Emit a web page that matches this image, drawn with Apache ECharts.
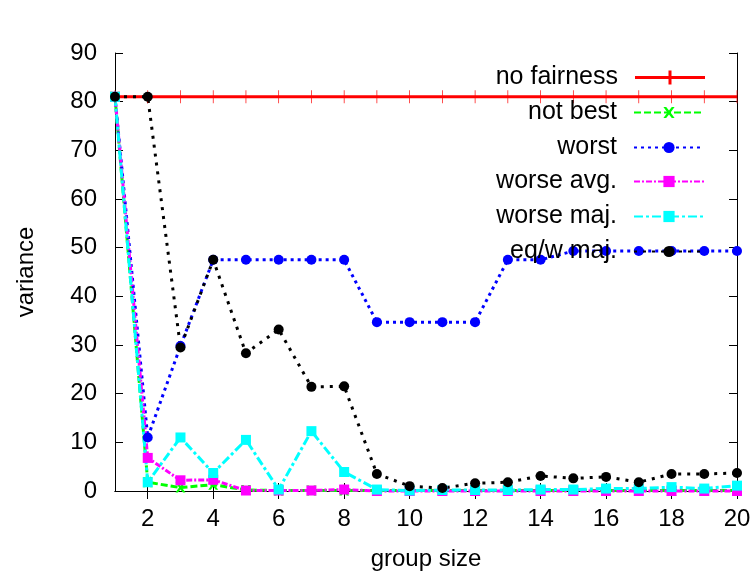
<!DOCTYPE html>
<html><head><meta charset="utf-8">
<script src="https://cdn.jsdelivr.net/npm/echarts@6/dist/echarts.min.js"></script>
<style>html,body{margin:0;padding:0;background:#fff}#c{width:756px;height:573px}</style>
</head><body><div id="c"></div>
<script>
const groupSize = [1,2,3,4,5,6,7,8,9,10,11,12,13,14,15,16,17,18,19,20];
const noFairness = [81,81,81,81,81,81,81,81,81,81,81,81,81,81,81,81,81,81,81,81];
const notBest = [81,1.8,0.7,1.3,0.2,0.1,0.1,0.1,0.1,0.1,0.1,0.1,0.1,0.1,0.1,0.1,0.1,0.1,0.1,0.1];
const worst = [81,11,29.8,47.5,47.5,47.5,47.5,47.5,34.7,34.7,34.7,34.7,47.5,47.5,49.3,49.3,49.3,49.3,49.3,49.3];
const worseAvg = [81,6.8,2.2,2.3,0.1,0.1,0.1,0.3,0,0,0,0,0,0,0,0,0,0,0,0];
const worseMaj = [81,1.8,11,3.7,10.5,0.3,12.3,3.9,0.3,0.1,0.2,0.2,0.2,0.3,0.3,0.5,0.5,0.8,0.5,1.1];
const eqwMaj = [81,81,29.5,47.5,28.3,33.2,21.4,21.5,3.5,1.0,0.6,1.6,1.8,3.1,2.6,2.9,1.8,3.5,3.5,3.7];
const xTicks = [2,4,6,8,10,12,14,16,18,20];
const yTicks = [0,10,20,30,40,50,60,70,80,90];
const names = ['no fairness','not best','worst','worse avg.','worse maj.','eq/w maj.'];

const FONT = '"Liberation Sans", Arial, sans-serif';
const pair = a => groupSize.map((x,i)=>[x,a[i]]);
const xShape = 'path://M0,0L2.5,0L5,3.2L7.5,0L10,0L6.4,5L10,10L7.5,10L5,6.8L2.5,10L0,10L3.6,5Z';
const vTick = 'path://M0,0L3,0L3,13L0,13Z';
const redLegendIcon = 'path://M0,5.5L33.5,5.5L33.5,0L36.5,0L36.5,5.5L70,5.5L70,8.5L36.5,8.5L36.5,14L33.5,14L33.5,8.5L0,8.5Z';

const styles = [
  {data: noFairness, color:'#ff0000', type:'solid', symbol:vTick, size:[3,13], keep:true, icon:redLegendIcon},
  {data: notBest, color:'#00ff00', type:[7,3], symbol:xShape, size:10},
  {data: worst, color:'#0000ff', type:[3,4], symbol:'circle', size:10},
  {data: worseAvg, color:'#ff00ff', type:[6,2,2,2], symbol:'rect', size:10},
  {data: worseMaj, color:'#00ffff', type:[9,3,3,3], symbol:'rect', size:10},
  {data: eqwMaj, color:'#000000', type:[3,6], symbol:'circle', size:10}
];

const series = styles.map((s,i)=>({
  name: names[i], type:'line', data: pair(s.data),
  symbol: s.symbol, symbolSize: s.size, symbolKeepAspect: !!s.keep, clip:false,
  itemStyle:{color:s.color},
  lineStyle:{color:s.color, width:3, type:s.type},
  emphasis:{disabled:true}, animation:false
}));

const rowCenters = [76,111,146,180,215,250];
const legends = names.map((n,i)=>({
  data:[styles[i].icon ? {name:n, icon:styles[i].icon, itemStyle:{color:styles[i].color, borderWidth:0}} : n],
  orient:'vertical', right:51, top:rowCenters[i]-11, padding:0,
  align:'right', itemWidth:70, itemHeight:14, selectedMode:false,
  textStyle:{fontFamily:FONT, fontSize:25, color:'#000', lineHeight:22, padding:[0,12,0,0]}
}));

const axLine = {show:true, lineStyle:{color:'#000', width:1}};
const chart = echarts.init(document.getElementById('c'));
chart.setOption({
  animation:false,
  backgroundColor:'#fff',
  legend: legends,
  grid:{left:115, top:53, right:19, bottom:82, containLabel:false, outerBoundsMode:'none'},
  xAxis:[
    {type:'value', min:1, max:20, position:'bottom',
     axisLine:axLine, splitLine:{show:false},
     axisTick:{show:true, inside:true, length:8, customValues:xTicks, lineStyle:{color:'#000'}},
     axisLabel:{customValues:xTicks, fontFamily:FONT, fontSize:24, color:'#000', margin:16},
     name:'group size', nameLocation:'middle', nameGap:56,
     nameTextStyle:{fontFamily:FONT, fontSize:24, color:'#000'}},
    {type:'value', min:1, max:20, position:'top',
     axisLine:axLine, splitLine:{show:false},
     axisTick:{show:true, inside:true, length:8, customValues:xTicks, lineStyle:{color:'#000'}},
     axisLabel:{show:false}}
  ],
  yAxis:[
    {type:'value', min:0, max:90, interval:10, position:'left',
     axisLine:axLine, splitLine:{show:false},
     axisTick:{show:true, inside:true, length:8, lineStyle:{color:'#000'}},
     axisLabel:{fontFamily:FONT, fontSize:24, color:'#000', margin:18},
     name:'variance', nameLocation:'middle', nameGap:77, nameRotate:90,
     nameTextStyle:{fontFamily:FONT, fontSize:24, color:'#000'}},
    {type:'value', min:0, max:90, interval:10, position:'right',
     axisLine:axLine, splitLine:{show:false},
     axisTick:{show:true, inside:true, length:8, lineStyle:{color:'#000'}},
     axisLabel:{show:false}}
  ],
  series: series
});
</script></body></html>
